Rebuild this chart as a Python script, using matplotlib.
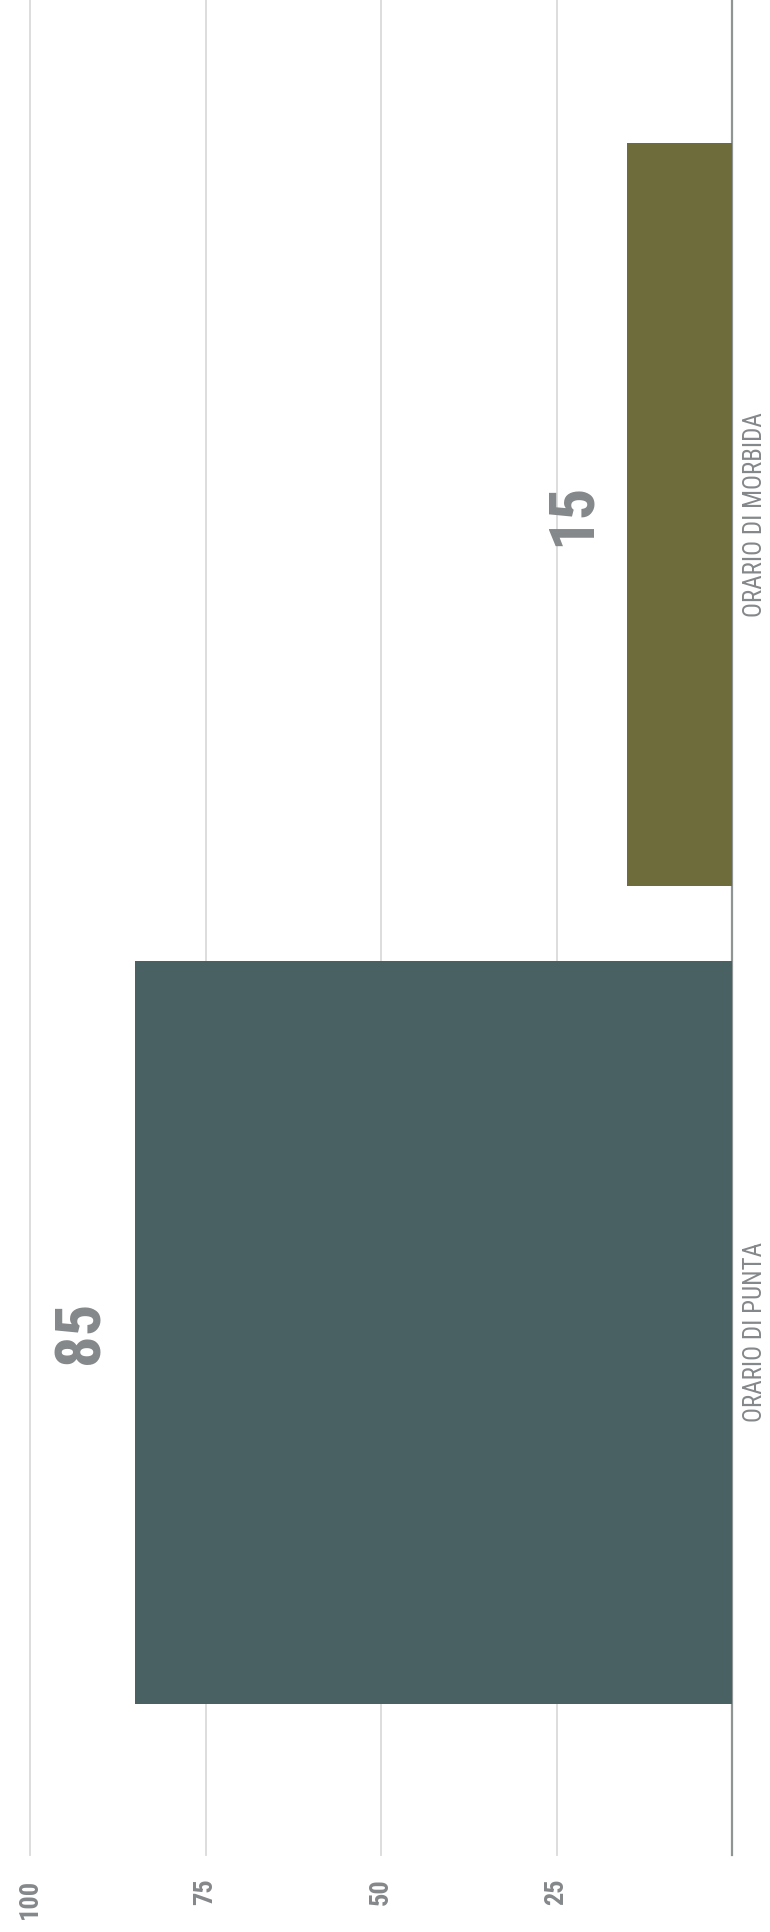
import matplotlib
matplotlib.use("Agg")
import matplotlib.pyplot as plt
from matplotlib import font_manager

# Data
categories = ["ORARIO DI PUNTA", "ORARIO DI MORBIDA"]
values = [85, 15]
bar_colors = ["#4a6163", "#6e6c3b"]
grid_values = [25, 50, 75, 100]
tick_labels = ["25", "50", "75", "100"]

TEXT_GREY = "#85888a"


def pick_family(candidates):
    installed = {f.name for f in font_manager.fontManager.ttflist}
    for name in candidates:
        if name in installed:
            return name
    return "DejaVu Sans"


NARROW = pick_family(["Liberation Sans Narrow", "Roboto Condensed",
                      "Open Sans Condensed", "Roboto"])

fig = plt.figure(figsize=(7.7, 19.32), dpi=100)
fig.patch.set_facecolor("white")

W, H = 770, 1932
ax = fig.add_axes([30 / W, (H - 1855) / H, (732 - 30) / W, 1855 / H])
ax.set_facecolor("white")

positions = list(range(len(categories)))
ax.barh(positions, values, height=0.908, color=bar_colors, zorder=3)

# value axis runs right-to-left, categories bottom-to-top
ax.set_xlim(100, 0)
ax.set_ylim(-0.639, 1.629)

for v in grid_values:
    ax.axvline(v, color="#dadada", lw=1.3, zorder=0, clip_on=False)
ax.axvline(0, color="#8f9495", lw=1.6, zorder=1, clip_on=False)

for side in ["top", "bottom", "left", "right"]:
    ax.spines[side].set_visible(False)

ax.set_xticks(grid_values)
ax.set_xticklabels(tick_labels, rotation=90, family=[NARROW, "DejaVu Sans"],
                   fontweight="bold", fontsize=19, color=TEXT_GREY)
ax.tick_params(axis="x", length=0, pad=17)

ax.yaxis.tick_right()
ax.set_yticks(positions)
ax.set_yticklabels(categories, rotation=90, family=[NARROW, "DejaVu Sans"],
                   fontsize=18, color=TEXT_GREY, va="center")
ax.tick_params(axis="y", length=0, pad=8)

for pos, val in zip(positions, values):
    ax.annotate(str(val), xy=(val, pos), xytext=(-17, 0),
                textcoords="offset points", rotation=90,
                ha="right", va="center", fontsize=45, fontweight="bold",
                family=[NARROW, "DejaVu Sans"], color=TEXT_GREY)

fig.savefig("out.png", dpi=100, facecolor="white")
